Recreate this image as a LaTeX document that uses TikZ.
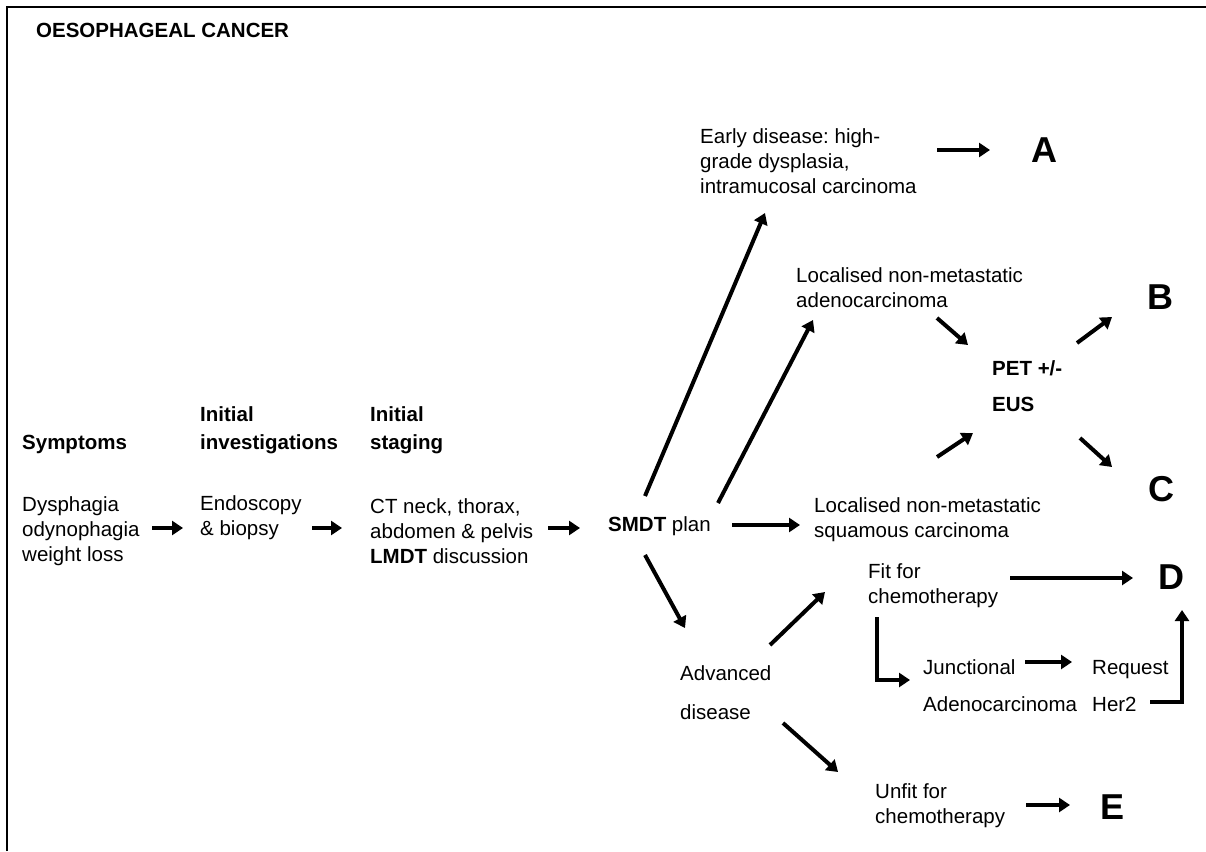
\documentclass[tikz,border=0pt]{standalone}
\usepackage{fontspec}
\setmainfont{Liberation Sans}
\usetikzlibrary{arrows.meta}
\frenchspacing
\begin{document}
\begin{tikzpicture}[x=1pt,y=-1pt,
  txt/.style={anchor=west,align=left,inner sep=0pt,font=\fontsize{20.5}{25}\selectfont},
  hd/.style={txt,font=\fontsize{20.5}{25}\selectfont\bfseries},
  big/.style={anchor=west,inner sep=0pt,font=\fontsize{36}{40}\selectfont\bfseries},
  arr/.style={line width=4pt,-{Triangle[length=11pt,width=14pt]}},
  elb/.style={arr,line join=miter}]
\useasboundingbox (0,0) rectangle (1206,851);
\draw[line width=2.5pt] (7,851) -- (7,7) -- (1206,7);

\node[hd] (title) at (36,30) {OESOPHAGEAL CANCER};
\node[hd] (symhead) at (22,444) {Symptoms};
\node[hd] (invhead) at (200,430) {Initial\\[3pt]investigations};
\node[hd] (stghead) at (370,430) {Initial\\[3pt]staging};

\node[txt] (symp) at (22,531) {Dysphagia\\odynophagia\\weight loss};
\node[txt] (endo) at (200,518) {Endoscopy\\\& biopsy};
\node[txt] (ct) at (370,531) {CT neck, thorax,\\abdomen \& pelvis\\\textbf{LMDT} discussion};
\node[txt] (smdt) at (608,526) {\textbf{SMDT} plan};
\node[txt] (early) at (700,161) {Early disease: high-\\grade dysplasia,\\intramucosal carcinoma};
\node[txt] (adeno) at (796,288) {Localised non-metastatic\\adenocarcinoma};
\node[txt] (squam) at (814,520) {Localised non-metastatic\\squamous carcinoma};
\node[hd] (pet) at (992,386) {PET +/-\\[11pt]EUS};
\node[txt] (fit) at (868,586) {Fit for\\chemotherapy};
\node[txt] (adv) at (680,693) {Advanced\\[14pt]disease};
\node[txt] (junc) at (923,686) {Junctional\\[12pt]Adenocarcinoma};
\node[txt] (req) at (1092,686) {Request\\[12pt]Her2};
\node[txt] (unfit) at (875,806) {Unfit for\\chemotherapy};

\node[big] (A) at (1031,150) {A};
\node[big] (B) at (1147,297) {B};
\node[big] (C) at (1148,489) {C};
\node[big] (D) at (1158,577) {D};
\node[big] (E) at (1100,807) {E};

\draw[arr] ([shift={(130,-3)}]symp.west) -- ([shift={(-17,10)}]endo.west);
\draw[arr] ([shift={(112,10)}]endo.west) -- ([shift={(-28,-3)}]ct.west);
\draw[arr] ([shift={(178,-3)}]ct.west) -- ([shift={(-28,2)}]smdt.west);
\draw[arr] ([shift={(124,-1)}]smdt.west) -- ([shift={(-14,5)}]squam.west);
\draw[arr] ([shift={(37,-30)}]smdt.west) -- ([shift={(65,52)}]early.west);
\draw[arr] ([shift={(110,-23)}]smdt.west) -- ([shift={(17,32)}]adeno.west);
\draw[arr] ([shift={(37,29)}]smdt.west) -- ([shift={(5,-65)}]adv.west);
\draw[arr] ([shift={(237,-11)}]early.west) -- ([shift={(-41,0)}]A.west);
\draw[arr] ([shift={(141,30)}]adeno.west) -- ([shift={(-24,-41)}]pet.west);
\draw[arr] ([shift={(85,-43)}]pet.west) -- ([shift={(-35,20)}]B.west);
\draw[arr] ([shift={(123,-63)}]squam.west) -- ([shift={(-19,47)}]pet.west);
\draw[arr] ([shift={(88,52)}]pet.west) -- ([shift={(-36,-22)}]C.west);
\draw[arr] ([shift={(142,-8)}]fit.west) -- ([shift={(-25,1)}]D.west);
\draw[arr] ([shift={(90,-48)}]adv.west) -- ([shift={(-43,6)}]fit.west);
\draw[elb] ([shift={(9,31)}]fit.west) |- ([shift={(-13,-6)}]junc.west);
\draw[arr] ([shift={(102,-24)}]junc.west) -- ([shift={(-20,-24)}]req.west);
\draw[elb] ([shift={(58,16)}]req.west) -| ([shift={(24,33)}]D.west);
\draw[arr] ([shift={(103,30)}]adv.west) -- ([shift={(-37,-34)}]unfit.west);
\draw[arr] ([shift={(151,-1)}]unfit.west) -- ([shift={(-30,-2)}]E.west);
\end{tikzpicture}
\end{document}
